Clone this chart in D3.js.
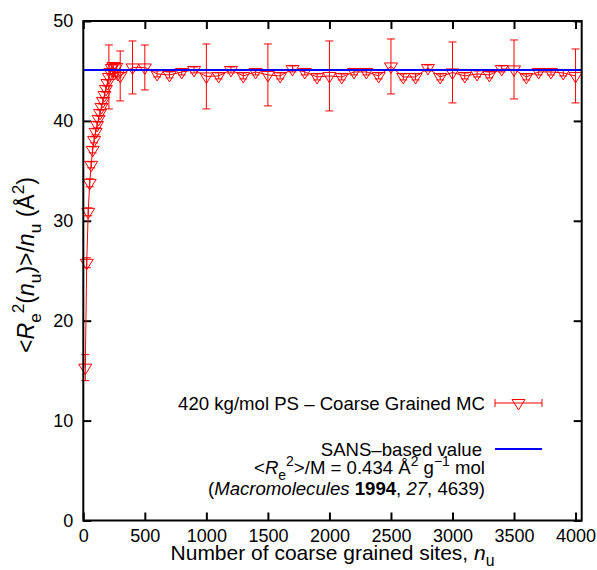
<!DOCTYPE html>
<html>
<head>
<meta charset="utf-8">
<title>Re2 per site vs chain length</title>
<script src="https://d3js.org/d3.v7.min.js"></script>
<style>
    body { margin: 0; background: #fff; }
    text { font-family: "Liberation Sans", Arial, Helvetica, sans-serif; fill: #000; }
    .tick text { font-size: 18px; font-family: "Liberation Sans", Arial, sans-serif; }
    .legend { font-size: 18.6px; text-anchor: end; }
    .x-title { font-size: 21px; }
    .y-title { font-size: 23px; }
</style>
</head>
<body>
<script>
    // number of coarse grained sites (x)
    var sites = [16, 28, 40, 52, 64, 76, 88, 100, 112, 124, 136, 148, 160, 172, 184, 196,
                 208, 220, 232, 244, 256, 268, 280, 300, 400, 500,
                 600, 700, 800, 900, 1000, 1100, 1200, 1300, 1400, 1500,
                 1600, 1700, 1800, 1900, 2000, 2100, 2200, 2300, 2400, 2500,
                 2600, 2700, 2800, 2900, 3000, 3100, 3200, 3300, 3400, 3500,
                 3600, 3700, 3800, 3900, 4000];
    // <Re^2(nu)>/nu in A^2
    var ratio = [15.3, 25.8, 30.9, 33.8, 35.6, 37.1, 38.1, 38.9, 39.6, 40.2, 40.8, 41.4, 42.0, 42.6, 43.2, 43.8,
                 44.4, 44.9, 45.3, 45.5, 44.8, 45.4, 44.7, 44.5, 45.35, 45.35,
                 44.7, 44.6, 44.9, 45.1, 44.45, 44.5, 45.1, 44.5, 44.9, 44.6,
                 44.5, 45.2, 44.9, 44.4, 44.5, 44.4, 44.9, 44.9, 44.5, 45.45,
                 44.4, 44.4, 45.3, 44.4, 44.85, 44.5, 44.7, 44.6, 45.2, 45.15,
                 44.4, 44.9, 44.9, 44.8, 44.5];
    var ratioErr = [1.3, 0.5, 0.4, 0.4, 0.3, 0.3, 0.3, 0.3, 0.3, 0.3, 0.3, 0.3, 0.3, 0.3, 0.3, 0.3,
                    3.2, 0.3, 0.3, 0.3, 0.3, 0.3, 0.3, 2.5, 2.65, 2.25,
                    0.3, 0.3, 0.3, 0.3, 3.25, 0.3, 0.3, 0.3, 0.3, 3.1,
                    0.3, 0.3, 0.3, 0.3, 3.5, 0.3, 0.3, 0.3, 0.3, 2.75,
                    0.3, 0.3, 0.3, 0.3, 3.05, 0.3, 0.3, 0.3, 0.3, 2.95,
                    0.3, 0.3, 0.3, 0.3, 2.7];
    var sansValue = 45.1;

    var xTicks = [0, 500, 1000, 1500, 2000, 2500, 3000, 3500, 4000];
    var yTicks = [0, 10, 20, 30, 40, 50];

    var W = 597, H = 570;
    var plot = {left: 83.3, right: 581.7, top: 21, bottom: 520.5};

    var canvas = d3.select('body').append('svg')
        .attr('width', W)
        .attr('height', H);

    var x = d3.scaleLinear().domain([0, 4050]).range([plot.left, plot.right]);
    var y = d3.scaleLinear().domain([0, 50]).range([plot.bottom, plot.top]);

    // rich text helper: parts = [{t, i, b, sub, sup}]
    function richText(sel, parts) {
        var shift = 0;
        parts.forEach(function(p) {
            var target = 0;
            if (p.sub) target = 0.3;
            if (p.sup) target = -0.45;
            var ts = sel.append('tspan').text(p.t);
            var scale = 1;
            if (p.sub || p.sup) {
                ts.style('font-size', '0.75em');
                scale = 0.75;
            }
            if (target !== shift) ts.attr('dy', ((target - shift) / scale) + 'em');
            if (p.i) ts.style('font-style', 'italic');
            if (p.b) ts.style('font-weight', 'bold');
            shift = target;
        });
    }

    // AXES //
    var fmt = d3.format('d');
    var gx = canvas.append('g')
        .attr('transform', 'translate(0,' + plot.bottom + ')')
        .call(d3.axisBottom(x).tickValues(xTicks).tickFormat(fmt).tickSizeInner(-8).tickSizeOuter(0).tickPadding(9));
    var gxTop = canvas.append('g')
        .attr('transform', 'translate(0,' + plot.top + ')')
        .call(d3.axisTop(x).tickValues(xTicks).tickSizeInner(-8).tickSizeOuter(0).tickFormat(''));
    var gy = canvas.append('g')
        .attr('transform', 'translate(' + plot.left + ',0)')
        .call(d3.axisLeft(y).tickValues(yTicks).tickFormat(fmt).tickSizeInner(-8).tickSizeOuter(0).tickPadding(10));
    var gyRight = canvas.append('g')
        .attr('transform', 'translate(' + plot.right + ',0)')
        .call(d3.axisRight(y).tickValues(yTicks).tickSizeInner(-8).tickSizeOuter(0).tickFormat(''));

    [gx, gxTop, gy, gyRight].forEach(function(g) {
        g.select('.domain').remove();
        g.selectAll('.tick line').attr('stroke', '#000').attr('stroke-width', 2);
    });

    // DATA //
    var data = sites.map(function(s, i) { return {x: s, y: ratio[i], e: ratioErr[i]}; });
    var red = '#ff0000';

    var bars = canvas.append('g').attr('stroke', red).attr('stroke-width', 1).attr('fill', 'none');
    bars.selectAll('path.err')
        .data(data)
        .enter()
        .append('path')
        .attr('class', 'err')
        .attr('d', function(d) {
            var cx = x(d.x), y1 = y(d.y + d.e), y2 = y(d.y - d.e), c = 4;
            return 'M' + cx + ',' + y1 + 'V' + y2 +
                   'M' + (cx - c) + ',' + y1 + 'H' + (cx + c) +
                   'M' + (cx - c) + ',' + y2 + 'H' + (cx + c);
        });

    canvas.append('path')
        .datum(data)
        .attr('fill', 'none')
        .attr('stroke', red)
        .attr('stroke-width', 1)
        .attr('d', d3.line().x(function(d) { return x(d.x); }).y(function(d) { return y(d.y); }));

    function triangle(cx, cy) {
        return 'M' + (cx - 6.5) + ',' + (cy - 3.5) + 'H' + (cx + 6.5) + 'L' + cx + ',' + (cy + 7) + 'Z';
    }

    canvas.append('g').selectAll('path')
        .data(data)
        .enter()
        .append('path')
        .attr('d', function(d) { return triangle(x(d.x), y(d.y)); })
        .attr('fill', 'none')
        .attr('stroke', red)
        .attr('stroke-width', 1);

    // SANS line
    canvas.append('line')
        .attr('x1', plot.left).attr('x2', plot.right)
        .attr('y1', y(sansValue)).attr('y2', y(sansValue))
        .attr('stroke', '#0000ff')
        .attr('stroke-width', 2);

    // frame
    canvas.append('rect')
        .attr('x', plot.left).attr('y', plot.top)
        .attr('width', plot.right - plot.left)
        .attr('height', plot.bottom - plot.top)
        .attr('fill', 'none')
        .attr('stroke', '#000')
        .attr('stroke-width', 2);

    // AXIS TITLES //
    var xt = canvas.append('text')
        .attr('class', 'x-title')
        .attr('x', (plot.left + plot.right) / 2)
        .attr('y', 560)
        .attr('text-anchor', 'middle');
    richText(xt, [{t: 'Number of coarse grained sites, '}, {t: 'n', i: true}, {t: 'u', sub: true}]);

    var yt = canvas.append('text')
        .attr('class', 'y-title')
        .attr('text-anchor', 'middle')
        .attr('transform', 'translate(34,265) rotate(-90)');
    richText(yt, [{t: '<'}, {t: 'R', i: true}, {t: 'e', sub: true}, {t: '2', sup: true},
                  {t: '('}, {t: 'n', i: true}, {t: 'u', sub: true}, {t: ')>/'},
                  {t: 'n', i: true}, {t: 'u', sub: true}, {t: ' (\u00c5'}, {t: '2', sup: true}, {t: ')'}]);

    // LEGEND //
    var legend = canvas.append('g');
    var keyX1 = 495, keyX2 = 542, textX = 485;

    legend.append('text').attr('class', 'legend').attr('x', textX).attr('y', 410)
        .text('420 kg/mol PS \u2013 Coarse Grained MC');
    legend.append('path')
        .attr('d', 'M' + keyX1 + ',403H' + keyX2 + 'M' + keyX1 + ',399V407M' + keyX2 + ',399V407')
        .attr('stroke', red).attr('fill', 'none');
    legend.append('path')
        .attr('d', triangle((keyX1 + keyX2) / 2, 403))
        .attr('stroke', red).attr('fill', 'none');

    legend.append('text').attr('class', 'legend').attr('x', textX - 3).attr('y', 456)
        .text('SANS\u2013based value');
    legend.append('line')
        .attr('x1', keyX1).attr('x2', keyX2).attr('y1', 449).attr('y2', 449)
        .attr('stroke', '#0000ff').attr('stroke-width', 2);

    var l2 = legend.append('text').attr('class', 'legend').attr('x', textX).attr('y', 474);
    richText(l2, [{t: '<'}, {t: 'R', i: true}, {t: 'e', sub: true}, {t: '2', sup: true},
                  {t: '>/M = 0.434 \u00c5'}, {t: '2', sup: true}, {t: ' g'}, {t: '\u22121', sup: true}, {t: ' mol'}]);

    var l3 = legend.append('text').attr('class', 'legend').attr('x', textX).attr('y', 495);
    richText(l3, [{t: '('}, {t: 'Macromolecules', i: true}, {t: ' '}, {t: '1994', b: true},
                  {t: ', '}, {t: '27', i: true}, {t: ', 4639)'}]);
</script>
</body>
</html>
